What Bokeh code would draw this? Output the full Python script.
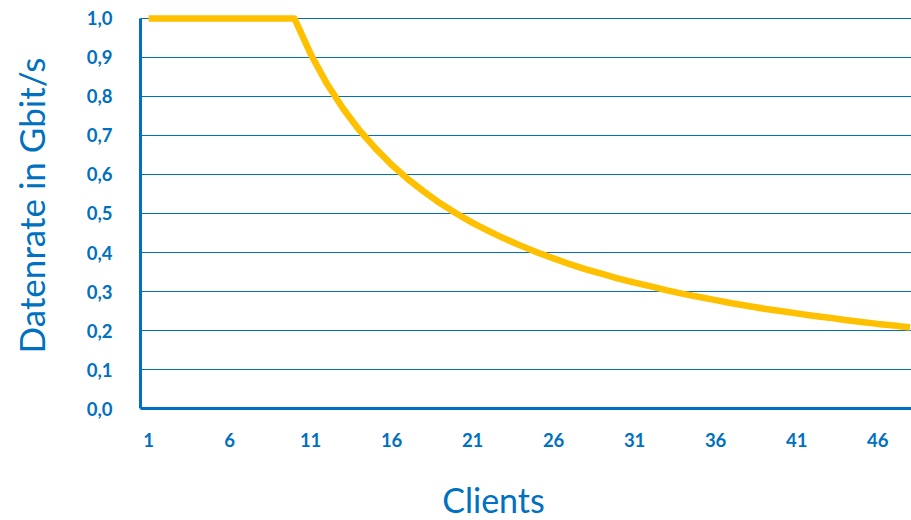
import math
from bokeh.plotting import figure
from bokeh.models import FixedTicker, CustomJSTickFormatter, Range1d, Label
from bokeh.embed import file_html
from bokeh.resources import INLINE

# Data rate per client on a shared 10 Gbit/s link capped at 1 Gbit/s per client
clients = list(range(1, 49))
rate_gbit = [
    1.0, 1.0, 1.0, 1.0, 1.0, 1.0, 1.0, 1.0, 1.0, 1.0,
    0.909, 0.833, 0.769, 0.714, 0.667, 0.625, 0.588, 0.556, 0.526, 0.500,
    0.476, 0.455, 0.435, 0.417, 0.400, 0.385, 0.370, 0.357, 0.345, 0.333,
    0.323, 0.313, 0.303, 0.294, 0.286, 0.278, 0.270, 0.263, 0.256, 0.250,
    0.244, 0.238, 0.233, 0.227, 0.222, 0.217, 0.213, 0.208,
]
x_ticks = [1, 6, 11, 16, 21, 26, 31, 36, 41, 46]
y_ticks = [0.0, 0.1, 0.2, 0.3, 0.4, 0.5, 0.6, 0.7, 0.8, 0.9, 1.0]

BLUE = "#0070C0"
GOLD = "#FFC000"
FONT = "Lato"

# The frame fills the whole canvas; axes sit at fixed data positions so the
# titles can be placed freely around them without being clipped.
X_LO, X_HI = 0.5, 48.09
Y_LO, Y_HI = 0.0, 1.0
p = figure(
    width=911, height=520,
    output_backend="svg", toolbar_location=None,
    x_range=Range1d(-8.142, X_HI), y_range=Range1d(-0.287, 1.046),
    min_border=0,
)
p.outline_line_color = None
p.background_fill_color = "white"
p.border_fill_color = "white"

p.line(clients, rate_gbit, line_color=GOLD, line_width=6.5, line_join="round")

# Axes
p.xaxis.ticker = FixedTicker(ticks=x_ticks)
p.yaxis.ticker = FixedTicker(ticks=y_ticks)
p.yaxis.formatter = CustomJSTickFormatter(code="return tick.toFixed(1).replace('.', ',');")
p.xaxis.fixed_location = Y_LO
p.yaxis.fixed_location = X_LO
p.xaxis.bounds = (X_LO, X_HI)
p.yaxis.bounds = (Y_LO, Y_HI)
for ax in (p.xaxis[0], p.yaxis[0]):
    ax.axis_line_color = BLUE
    ax.axis_line_width = 3
    ax.major_tick_line_color = None
    ax.minor_tick_line_color = None
    ax.major_label_text_color = BLUE
    ax.major_label_text_font = FONT
    ax.major_label_text_font_style = "bold"
    ax.major_label_text_font_size = "18.5px"
p.yaxis.major_label_standoff = 22
p.xaxis.major_label_standoff = 18

p.xgrid.grid_line_color = None
p.ygrid.ticker = FixedTicker(ticks=y_ticks[1:])
p.ygrid.grid_line_color = BLUE
p.ygrid.grid_line_width = 1.1
p.ygrid.cross_bounds = (X_LO, X_HI)

p.add_layout(Label(
    x=493, y=21, x_units="screen", y_units="screen",
    text="Clients", text_color=BLUE, text_font=FONT, text_font_size="34px",
    text_align="center", text_baseline="middle",
))
p.add_layout(Label(
    x=30, y=315, x_units="screen", y_units="screen", angle=math.pi / 2,
    text="Datenrate in Gbit/s", text_color=BLUE, text_font=FONT, text_font_size="35px",
    text_align="center", text_baseline="middle",
))

open("out.html", "w").write(file_html(p, INLINE))
